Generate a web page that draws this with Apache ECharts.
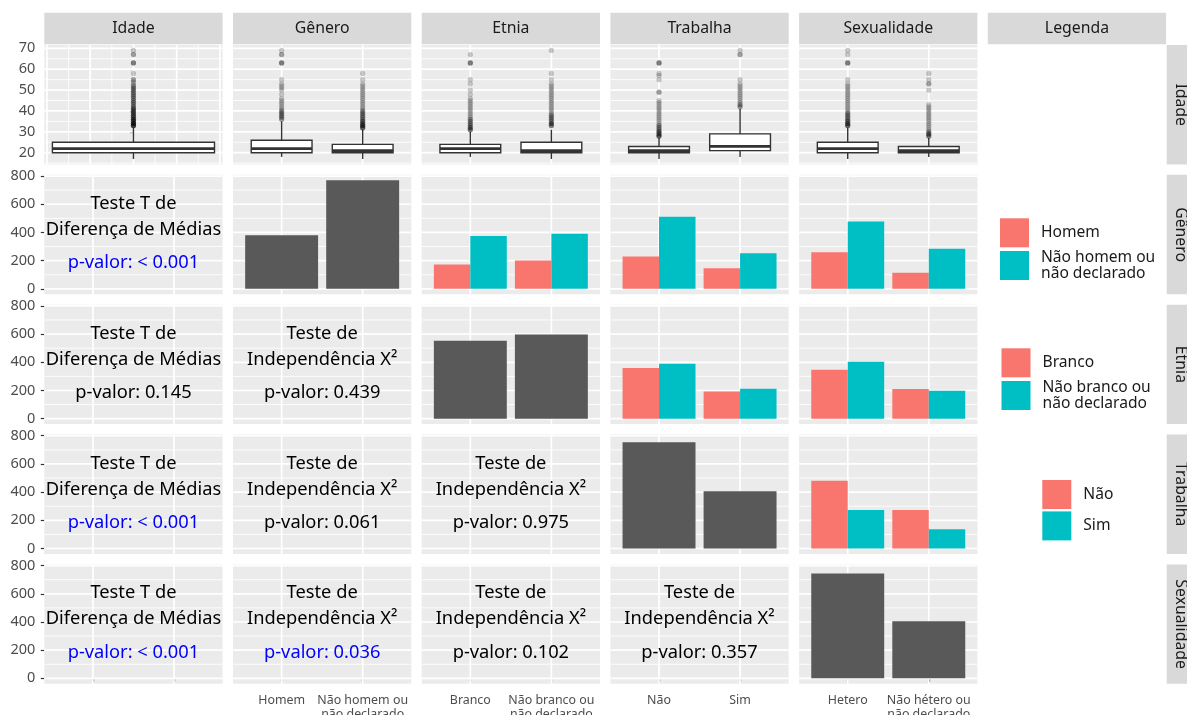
<!DOCTYPE html>
<html>
<head>
<meta charset="utf-8">
<script src="https://cdn.jsdelivr.net/npm/echarts@6/dist/echarts.min.js"></script>
<style>
  html, body { margin: 0; padding: 0; background: #ffffff; }
  #chart { width: 1187px; height: 715px; }
</style>
</head>
<body>
<div id="chart"></div>
<script>
// ---------------------------------------------------------------
// Data
// ---------------------------------------------------------------
const variables = ['Idade', 'Gênero', 'Etnia', 'Trabalha', 'Sexualidade'];

const generoCats = ['Homem', 'Não homem ou\nnão declarado'];
const etniaCats = ['Branco', 'Não branco ou\nnão declarado'];
const trabalhaCats = ['Não', 'Sim'];
const sexualidadeCats = ['Hetero', 'Não hétero ou\nnão declarado'];

// Age box summaries: [lower whisker, Q1, median, Q3, upper whisker]
const idadeBox = [17, 20, 22, 25, 32];
const idadePorGeneroBox = [[18, 20, 22, 26, 35], [17, 20, 21, 24, 31]];
const idadePorEtniaBox = [[18, 20, 22, 24, 30], [17, 20, 21, 25, 31]];
const idadePorTrabalhaBox = [[17, 20, 21, 23, 27], [18, 21, 23, 29, 41]];
const idadePorSexualidadeBox = [[17, 20, 22, 25, 32], [18, 20, 21, 23, 27]];

// Age outliers
const idadeOutliers = [33, 33, 33, 33, 33, 33, 34, 34, 34, 34, 34, 35, 35, 35, 35, 36, 36, 36, 36, 37, 37, 37,
  38, 38, 38, 39, 39, 39, 40, 40, 40, 41, 41, 41, 42, 42, 43, 43, 44, 44, 45, 45, 46, 46, 47, 47, 48, 48,
  49, 49, 50, 50, 51, 51, 52, 52, 53, 54, 55, 55, 58, 63, 63, 63, 67, 67, 69];
const idadePorGeneroOutliers = [
  [36, 36, 37, 37, 38, 38, 39, 39, 40, 40, 41, 42, 43, 44, 45, 46, 48, 50, 51, 52, 53, 55, 63, 63, 63, 67, 67, 69],
  [32, 32, 32, 32, 33, 33, 33, 33, 34, 34, 34, 35, 35, 35, 36, 36, 37, 37, 38, 38, 39, 39, 40, 40, 41, 42, 43,
    44, 45, 46, 47, 48, 49, 50, 51, 52, 53, 55, 58]
];
const idadePorEtniaOutliers = [
  [31, 31, 31, 32, 32, 32, 33, 33, 34, 34, 35, 35, 36, 36, 37, 38, 39, 40, 41, 42, 43, 44, 45, 46, 48, 50, 53,
    55, 63, 63, 63, 67],
  [33, 33, 33, 34, 34, 34, 35, 35, 36, 36, 37, 37, 38, 38, 39, 40, 41, 42, 43, 44, 45, 46, 47, 48, 49, 50, 51,
    52, 53, 55, 58, 69]
];
const idadePorTrabalhaOutliers = [
  [28, 28, 28, 28, 29, 29, 29, 30, 30, 30, 31, 31, 32, 32, 33, 33, 34, 35, 36, 37, 38, 39, 40, 41, 42, 43, 44,
    45, 49, 49, 55, 57, 58, 63, 63, 63],
  [42, 42, 43, 43, 44, 45, 46, 47, 48, 49, 50, 51, 52, 53, 55, 67, 67, 69]
];
const idadePorSexualidadeOutliers = [
  [33, 33, 33, 33, 34, 34, 34, 35, 35, 35, 36, 36, 37, 37, 38, 38, 39, 39, 40, 41, 42, 43, 44, 45, 46, 47, 48,
    49, 50, 51, 52, 53, 55, 63, 63, 63, 67, 69],
  [28, 28, 28, 29, 29, 29, 30, 30, 31, 32, 33, 34, 35, 36, 37, 38, 39, 40, 41, 42, 43, 50, 53, 53, 55, 58]
];

// Counts per category
const generoCount = [380, 770];
const etniaCount = [552, 597];
const trabalhaCount = [754, 406];
const sexualidadeCount = [744, 405];

// Cross counts: outer index = column category (x), inner index = row category (fill)
const etniaPorGenero = [[173, 374], [201, 391]];
const trabalhaPorGenero = [[229, 511], [146, 253]];
const sexualidadePorGenero = [[260, 478], [114, 284]];
const trabalhaPorEtnia = [[359, 389], [193, 212]];
const sexualidadePorEtnia = [[347, 404], [210, 198]];
const sexualidadePorTrabalha = [[480, 274], [274, 137]];

// Test results shown below the diagonal (one per column to the left)
const pGenero = ['< 0.001'];
const pEtnia = ['0.145', '0.439'];
const pTrabalha = ['< 0.001', '0.061', '0.975'];
const pSexualidade = ['< 0.001', '0.036', '0.102', '0.357'];

// Tick labels
const idadeTicks = [20, 30, 40, 50, 60, 70];
const contagemTicks = [0, 200, 400, 600, 800];

// ---------------------------------------------------------------
// Lookups
// ---------------------------------------------------------------
const catsOf = { 'Gênero': generoCats, 'Etnia': etniaCats, 'Trabalha': trabalhaCats, 'Sexualidade': sexualidadeCats };
const countOf = { 'Gênero': generoCount, 'Etnia': etniaCount, 'Trabalha': trabalhaCount, 'Sexualidade': sexualidadeCount };
const boxOf = { 'Gênero': idadePorGeneroBox, 'Etnia': idadePorEtniaBox, 'Trabalha': idadePorTrabalhaBox, 'Sexualidade': idadePorSexualidadeBox };
const outOf = { 'Gênero': idadePorGeneroOutliers, 'Etnia': idadePorEtniaOutliers, 'Trabalha': idadePorTrabalhaOutliers, 'Sexualidade': idadePorSexualidadeOutliers };
const crossOf = {
  'Etnia|Gênero': etniaPorGenero, 'Trabalha|Gênero': trabalhaPorGenero, 'Sexualidade|Gênero': sexualidadePorGenero,
  'Trabalha|Etnia': trabalhaPorEtnia, 'Sexualidade|Etnia': sexualidadePorEtnia,
  'Sexualidade|Trabalha': sexualidadePorTrabalha
};
const pOf = { 'Gênero': pGenero, 'Etnia': pEtnia, 'Trabalha': pTrabalha, 'Sexualidade': pSexualidade };

// ---------------------------------------------------------------
// Look and layout
// ---------------------------------------------------------------
const FONT = '"Noto Sans", "Open Sans", sans-serif';
const PANEL_BG = '#EBEBEB';
const STRIP_BG = '#D9D9D9';
const BAR_GREY = '#595959';
const FILL_COLORS = ['#F8766D', '#00BFC4'];
const INK = '#333333';
const AXIS_TEXT = '#4D4D4D';
const POINT_COLOR = 'rgba(0,0,0,0.26)';

const PANEL_LEFT = 44.3, COL_STEP = 188.7, PANEL_W = 178.3;
const PANEL_TOP = 45, ROW_STEP = 129.85, PANEL_H = 119.4;
const STRIP_TOP = 12.7, STRIP_H = 31.6, RIGHT_STRIP_X = 1166.7;
const colX = c => PANEL_LEFT + c * COL_STEP;
const rowY = r => PANEL_TOP + r * ROW_STEP;

// ggplot-like scale expansion (5 % on each side of the data range)
const expand = (lo, hi) => [lo - 0.05 * (hi - lo), hi + 0.05 * (hi - lo)];
const DISCRETE_X = [0.4, 2.6];
const BOX_WIDTH = 0.75;

const allAges = [].concat(idadeBox, idadeOutliers,
  ...Object.values(boxOf).flat(), ...Object.values(outOf).flat(2));
const AGE_RANGE = expand(Math.min(...allAges), Math.max(...allAges));
const IDADE_X = expand(-BOX_WIDTH / 2, BOX_WIDTH / 2);

const allCounts = [].concat(...Object.values(countOf), ...Object.values(crossOf).flat(2));
const COUNT_RANGE = expand(0, Math.max(...allCounts));

// minor breaks sit halfway between the major ones (and one step beyond)
function minorBreaks(ticks, range) {
  const step = ticks[1] - ticks[0];
  const out = [];
  for (let i = -1; i < ticks.length; i++) {
    const v = (i < 0 ? ticks[0] - step : ticks[i]) + step / 2;
    if (v > range[0] && v < range[1]) out.push(v);
  }
  return out;
}

const grids = [], xAxes = [], yAxes = [], series = [], graphics = [];

// white panel grid drawn through the axes of each panel
function gridRender(params, api) {
  const cs = params.coordSys;
  const v = api.value(0), vertical = api.value(1) === 1, w = api.value(2);
  if (!vertical) {
    const y = api.coord([0, v])[1];
    return { type: 'line', silent: true, shape: { x1: cs.x, y1: y, x2: cs.x + cs.width, y2: y },
      style: { stroke: '#FFFFFF', lineWidth: w } };
  }
  const x = api.coord([v, 0])[0];
  return { type: 'line', silent: true, shape: { x1: x, y1: cs.y, x2: x, y2: cs.y + cs.height },
    style: { stroke: '#FFFFFF', lineWidth: w } };
}

// box and whiskers, with a heavier median line
function boxRender(params, api) {
  const x = api.value(0);
  const half = api.size([BOX_WIDTH, 0], [x, 0])[0] / 2;
  const cx = api.coord([x, 0])[0];
  const y = i => api.coord([x, api.value(i)])[1];
  const yMin = y(1), yQ1 = y(2), yMed = y(3), yQ3 = y(4), yMax = y(5);
  const ln = { stroke: INK, lineWidth: 1.4 };
  return {
    type: 'group',
    children: [
      { type: 'line', shape: { x1: cx, y1: yMin, x2: cx, y2: yQ1 }, style: ln },
      { type: 'line', shape: { x1: cx, y1: yQ3, x2: cx, y2: yMax }, style: ln },
      { type: 'rect', shape: { x: cx - half, y: yQ3, width: 2 * half, height: yQ1 - yQ3 },
        style: { fill: '#FFFFFF', stroke: INK, lineWidth: 1.4 } },
      { type: 'line', shape: { x1: cx - half, y1: yMed, x2: cx + half, y2: yMed },
        style: { stroke: INK, lineWidth: 2.8 } }
    ]
  };
}

function addPanel(r, c, xRange, yRange, xMajor, xMinor, yTicks, bottomCats) {
  const idx = grids.length;
  // panels keep their exact place even when bottom labels run past the canvas edge
  grids.push({ left: colX(c), top: rowY(r), width: PANEL_W, height: PANEL_H,
    show: true, backgroundColor: PANEL_BG, borderWidth: 0,
    containLabel: false, outerBoundsMode: 'none' });
  const isBottom = r === variables.length - 1;
  xAxes.push({
    type: 'value', gridIndex: idx, min: xRange[0], max: xRange[1],
    axisLine: { show: false }, splitLine: { show: false },
    axisTick: { show: isBottom, customValues: xMajor, length: 3.5, lineStyle: { color: INK, width: 1.2 } },
    axisLabel: { show: isBottom && !!bottomCats, customValues: xMajor, color: AXIS_TEXT,
      fontFamily: FONT, fontSize: 12.4, lineHeight: 14.5, margin: 9,
      formatter: v => bottomCats ? bottomCats[Math.round(v) - 1] : '' }
  });
  yAxes.push({
    type: 'value', gridIndex: idx, min: yRange[0], max: yRange[1],
    axisLine: { show: false }, splitLine: { show: false },
    axisTick: { show: c === 0, customValues: yTicks, length: 3.5, lineStyle: { color: INK, width: 1.2 } },
    axisLabel: { show: c === 0, customValues: yTicks, color: AXIS_TEXT, fontFamily: FONT,
      fontSize: 14.5, margin: 9 }
  });
  const lines = [];
  yTicks.forEach(v => lines.push([v, 0, 1.7]));
  minorBreaks(yTicks, yRange).forEach(v => lines.push([v, 0, 0.85]));
  xMajor.forEach(v => lines.push([v, 1, 1.7]));
  xMinor.forEach(v => lines.push([v, 1, 0.85]));
  series.push({ type: 'custom', name: 'grade', xAxisIndex: idx, yAxisIndex: idx, silent: true, z: 1,
    renderItem: gridRender, data: lines });
  return idx;
}

// ---------------------------------------------------------------
// Row 1: age boxplots
// ---------------------------------------------------------------
variables.forEach((v, c) => {
  let idx;
  if (c === 0) {
    const xMajor = [-0.4, -0.2, 0, 0.2, 0.4];
    idx = addPanel(0, 0, IDADE_X, AGE_RANGE, xMajor, [-0.3, -0.1, 0.1, 0.3], idadeTicks, null);
    series.push({ type: 'custom', name: 'caixa', xAxisIndex: idx, yAxisIndex: idx, z: 2, silent: true,
      renderItem: boxRender, data: [[0].concat(idadeBox)] });
    series.push({ type: 'scatter', name: 'atípicos', xAxisIndex: idx, yAxisIndex: idx, z: 3, silent: true,
      symbolSize: 5.2, itemStyle: { color: POINT_COLOR },
      data: idadeOutliers.map(a => [0, a]) });
  } else {
    idx = addPanel(0, c, DISCRETE_X, AGE_RANGE, [1, 2], [], idadeTicks, null);
    series.push({ type: 'custom', name: 'caixa', xAxisIndex: idx, yAxisIndex: idx, z: 2, silent: true,
      renderItem: boxRender, data: boxOf[v].map((b, k) => [k + 1].concat(b)) });
    series.push({ type: 'scatter', name: 'atípicos', xAxisIndex: idx, yAxisIndex: idx, z: 3, silent: true,
      symbolSize: 5.2, itemStyle: { color: POINT_COLOR },
      data: outOf[v].flatMap((list, k) => list.map(a => [k + 1, a])) });
  }
});

// ---------------------------------------------------------------
// Rows 2-5: tests, counts and cross counts
// ---------------------------------------------------------------
for (let r = 1; r < variables.length; r++) {
  const rowVar = variables[r];
  for (let c = 0; c < variables.length; c++) {
    const colVar = variables[c];
    const bottomCats = c > 0 ? catsOf[colVar] : null;
    const idx = addPanel(r, c, DISCRETE_X, COUNT_RANGE, [1, 2], [], contagemTicks, bottomCats);
    if (c < r) {
      const title = c === 0 ? 'Teste T de\nDiferença de Médias' : 'Teste de\nIndependência X²';
      const p = pOf[rowVar][c];
      const significant = p.trim().startsWith('<') || parseFloat(p) < 0.05;
      const cx = colX(c) + PANEL_W / 2;
      graphics.push({ type: 'text', x: cx, y: rowY(r) + 41.8, z: 60, silent: true,
        style: { text: title, fill: '#000000', font: '18.3px ' + FONT, lineHeight: 26,
          align: 'center', verticalAlign: 'middle' } });
      graphics.push({ type: 'text', x: cx, y: rowY(r) + 88.2, z: 60, silent: true,
        style: { text: 'p-valor: ' + p, fill: significant ? '#0000FF' : '#000000', font: '18.3px ' + FONT,
          align: 'center', verticalAlign: 'middle' } });
    } else if (c === r) {
      series.push({ type: 'bar', name: 'contagem ' + rowVar, xAxisIndex: idx, yAxisIndex: idx, z: 2,
        silent: true, barWidth: '90%', itemStyle: { color: BAR_GREY },
        data: countOf[rowVar].map((n, k) => [k + 1, n]) });
    } else {
      const cross = crossOf[colVar + '|' + rowVar];
      catsOf[rowVar].forEach((fillName, k) => {
        series.push({ type: 'bar', name: fillName, xAxisIndex: idx, yAxisIndex: idx, z: 2,
          silent: true, barWidth: '45%', barGap: '0%', itemStyle: { color: FILL_COLORS[k] },
          data: cross.map((pair, j) => [j + 1, pair[k]]) });
      });
    }
  }
}

// ---------------------------------------------------------------
// Strips
// ---------------------------------------------------------------
variables.concat(['Legenda']).forEach((name, c) => {
  graphics.push({ type: 'rect', silent: true, z: 50,
    shape: { x: colX(c), y: STRIP_TOP, width: PANEL_W, height: STRIP_H }, style: { fill: STRIP_BG } });
  graphics.push({ type: 'text', silent: true, z: 51, x: colX(c) + PANEL_W / 2, y: STRIP_TOP + STRIP_H / 2,
    style: { text: name, fill: '#1A1A1A', font: '15.8px ' + FONT, align: 'center', verticalAlign: 'middle' } });
});
variables.forEach((name, r) => {
  graphics.push({ type: 'rect', silent: true, z: 50,
    shape: { x: RIGHT_STRIP_X, y: rowY(r), width: STRIP_H, height: PANEL_H }, style: { fill: STRIP_BG } });
  graphics.push({ type: 'text', silent: true, z: 51, x: RIGHT_STRIP_X + 14.3, y: rowY(r) + PANEL_H / 2,
    rotation: -Math.PI / 2,
    style: { text: name, fill: '#1A1A1A', font: '15.8px ' + FONT, align: 'center', verticalAlign: 'middle' } });
});

// ---------------------------------------------------------------
// Legends (one per row that has filled bars)
// ---------------------------------------------------------------
function legendFor(cats, left, top, gap) {
  return {
    orient: 'vertical', left: left, top: top, padding: 0, itemGap: gap,
    itemWidth: 29, itemHeight: 29, icon: 'rect', selectedMode: false,
    data: cats.slice(),
    textStyle: { color: '#1A1A1A', fontFamily: FONT, fontSize: 15.6, lineHeight: 16.6, padding: [0, 0, 0, 7] }
  };
}
const legends = [
  legendFor(generoCats, 1000, 218.3, 1.6),
  legendFor(etniaCats, 1001.5, 348.3, 1.6),
  legendFor(trabalhaCats, 1042.3, 480, 2.4)
];

const chart = echarts.init(document.getElementById('chart'));
chart.setOption({
  backgroundColor: '#FFFFFF',
  animation: false,
  textStyle: { fontFamily: FONT },
  grid: grids,
  xAxis: xAxes,
  yAxis: yAxes,
  legend: legends,
  series: series,
  graphic: { elements: graphics }
});
</script>
</body>
</html>
